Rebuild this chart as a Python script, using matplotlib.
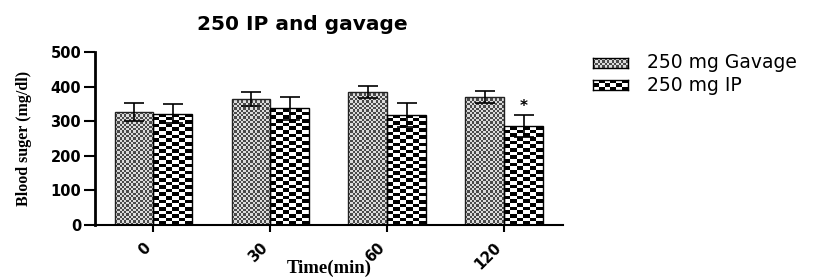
import numpy as np
import matplotlib
matplotlib.use('Agg')
import matplotlib.pyplot as plt
from matplotlib.colors import ListedColormap

times = ['0', '30', '60', '120']
gavage = [326, 365, 385, 371]
gavage_err = [26, 20, 17, 17]
ip = [322, 337, 318, 286]
ip_err = [28, 34, 35, 32]
yticks = [0, 100, 200, 300, 400, 500]
labels = ['250 mg Gavage', '250 mg IP']

plt.rcParams['font.family'] = ['DejaVu Sans']

gav_cmap = ListedColormap(['#dcdcdc', '#4a4a4a'])
ip_cmap = ListedColormap(['white', 'black'])


def checker(nx, ny):
    return np.add.outer(np.arange(ny), np.arange(nx)) % 2


fig = plt.figure(figsize=(8.23, 2.77), dpi=100)
ax = fig.add_axes([0.1154, 0.1877, 0.5686, 0.6246])
ax.set_xlim(-0.5, 3.5)
ax.set_ylim(0, 500)

x = np.arange(len(times))
w = 0.333
b1 = ax.bar(x - w / 2, gavage, w, color='none', edgecolor='#222222',
            linewidth=1.0, zorder=2)
b2 = ax.bar(x + w / 2, ip, w, color='none', edgecolor='black',
            linewidth=1.0, zorder=2)

# fill the bars with the checker textures (cell size in pixels)
bb = ax.get_window_extent()
px_x = bb.width / 4.0
px_y = bb.height / 500.0
for bars, cmap, cw, ch in [(b1, gav_cmap, 2.3, 2.3), (b2, ip_cmap, 6.5, 3.6)]:
    for p in bars:
        x0, bw, bh = p.get_x(), p.get_width(), p.get_height()
        nx = max(1, int(round(bw * px_x / cw)))
        ny = max(1, int(round(bh * px_y / ch)))
        im = ax.imshow(checker(nx, ny), cmap=cmap, aspect='auto',
                       extent=[x0, x0 + bw, 0, bh], origin='lower',
                       interpolation='nearest', zorder=1)
        im.set_clip_path(p)

ax.errorbar(x - w / 2, gavage, yerr=gavage_err, fmt='none', ecolor='black',
            elinewidth=1.2, capsize=7, capthick=1.2, zorder=3)
ax.errorbar(x + w / 2, ip, yerr=ip_err, fmt='none', ecolor='black',
            elinewidth=1.2, capsize=7, capthick=1.2, zorder=3)
ax.text(x[3] + w / 2, ip[3] + ip_err[3] + 2, '*', ha='center', va='bottom',
        fontsize=11, fontweight='bold')

ax.set_xlim(-0.5, 3.5)
ax.set_ylim(0, 500)
ax.set_yticks(yticks)
ax.set_xticks(x)
ax.set_xticklabels(times, rotation=45, ha='right', fontsize=10.5,
                   fontweight='bold')
for lab in ax.get_yticklabels():
    lab.set_fontweight('bold')
    lab.set_fontsize(10.5)
ax.spines['top'].set_visible(False)
ax.spines['right'].set_visible(False)
ax.spines['left'].set_linewidth(2)
ax.spines['bottom'].set_linewidth(1.5)
ax.tick_params(axis='y', width=1.5, length=8, pad=2)
ax.tick_params(axis='x', width=1.5, length=5, pad=6)

ax.set_ylabel('Blood suger (mg/dl)', family='Liberation Serif',
              fontweight='bold', fontsize=11.5, labelpad=13)
ax.set_xlabel('Time(min)', family='Liberation Serif', fontweight='bold',
              fontsize=13.5)
ax.xaxis.set_label_coords(0.5, -0.25)
ax.xaxis.label.set_va('center')

fig.text(0.367, 0.91, '250 IP and gavage', ha='center', va='center',
         fontsize=14.5, fontweight='bold')

# legend: swatches with the same textures
for i, (cmap, nx, ny) in enumerate([(gav_cmap, 15, 4), (ip_cmap, 6, 3)]):
    sw = fig.add_axes([0.7205, 0.7545 - i * 0.0795, 0.0425, 0.036])
    sw.imshow(checker(nx, ny), cmap=cmap, aspect='auto',
              interpolation='nearest')
    sw.set_xticks([])
    sw.set_yticks([])
    for s in sw.spines.values():
        s.set_linewidth(1.0)
    fig.text(0.786, 0.7726 - i * 0.0795, labels[i], ha='left', va='center',
             fontsize=13.5)

fig.savefig('out.png', dpi=100)
